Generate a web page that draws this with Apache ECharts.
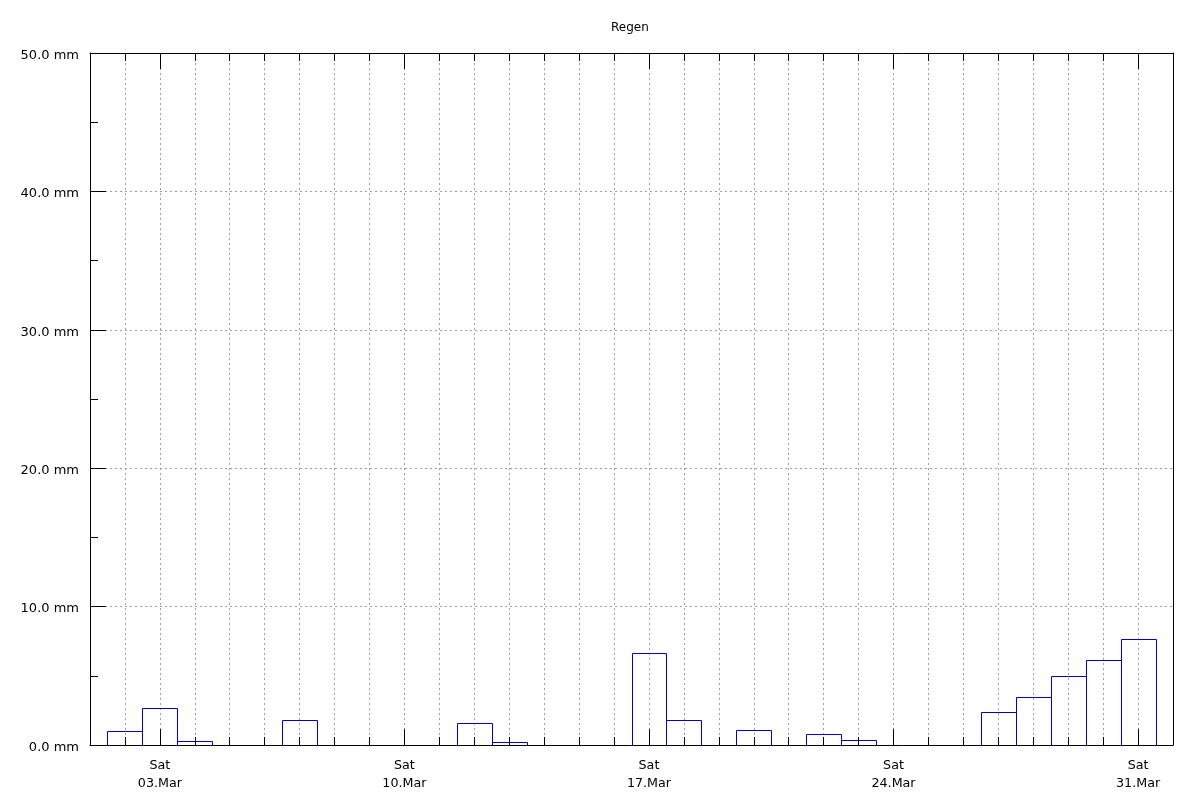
<!DOCTYPE html>
<html>
<head>
<meta charset="utf-8">
<script src="https://cdn.jsdelivr.net/npm/echarts@6/dist/echarts.min.js"></script>
<style>
html,body{margin:0;padding:0;background:#fff;}
#chart{width:1200px;height:800px;}
</style>
</head>
<body>
<div id="chart"></div>
<script>
// Day of March (bar centred on that day's midnight) and rainfall in mm
const days = [2, 3, 4, 7, 12, 13, 17, 18, 20, 22, 23, 27, 28, 29, 30, 31];
const rain = [1.0, 2.65, 0.27, 1.8, 1.57, 0.2, 6.63, 1.78, 1.07, 0.77, 0.34, 2.37, 3.45, 4.97, 6.12, 7.64];

// Saturday tick positions and labels
const satDays = [3, 10, 17, 24, 31];
const satWeekday = ['Sat', 'Sat', 'Sat', 'Sat', 'Sat'];
const satDates = ['03.Mar', '10.Mar', '17.Mar', '24.Mar', '31.Mar'];

const title = 'Regen';
const yUnit = 'mm';
const xMin = 1, xMax = 32;  // 1 Mar 00:00 .. 1 Apr 00:00
const yMin = 0, yMax = 50, yStep = 10;

const FONT = 'DejaVu Sans';
const BLUE = '#0000c8';
const GRIDC = '#a0a0a0';

const gridBox = {left: 90, right: 27, top: 53, bottom: 55};

const chart = echarts.init(document.getElementById('chart'), null, {renderer: 'canvas'});

const dotted = {color: GRIDC, width: 1, type: [2, 3]};
const blackLine = {show: true, lineStyle: {color: '#000', width: 1}};

const option = {
  animation: false,
  backgroundColor: '#fff',
  title: {
    text: title,
    left: 606, top: 17,
    textStyle: {fontFamily: FONT, fontSize: 12, fontWeight: 'normal', color: '#000'}
  },
  grid: [
    Object.assign({show: false}, gridBox),
    Object.assign({show: false}, gridBox)
  ],
  xAxis: [
    { // daily minor ticks + dotted grid, bottom
      gridIndex: 0, type: 'value', position: 'bottom', min: xMin, max: xMax, interval: 1,
      axisLine: blackLine,
      axisTick: {show: true, inside: true, length: 8, lineStyle: {color: '#000', width: 1}},
      axisLabel: {show: false},
      splitLine: {show: true, lineStyle: dotted}
    },
    { // daily minor ticks, top
      gridIndex: 0, type: 'value', position: 'top', min: xMin, max: xMax, interval: 1,
      axisLine: blackLine,
      axisTick: {show: true, inside: true, length: 8, lineStyle: {color: '#000', width: 1}},
      axisLabel: {show: false},
      splitLine: {show: false}
    },
    { // Saturday major ticks + labels, bottom
      gridIndex: 1, type: 'value', position: 'bottom', min: xMin, max: xMax,
      axisLine: {show: false},
      axisTick: {show: true, inside: true, length: 16, customValues: satDays, lineStyle: {color: '#000', width: 1}},
      axisLabel: {
        show: true, customValues: satDays, margin: 11,
        fontFamily: FONT, fontSize: 12.7, color: '#000', lineHeight: 18.5,
        formatter: function (v) {
          const i = satDays.indexOf(Math.round(v));
          return i < 0 ? '' : satWeekday[i] + '\n' + satDates[i];
        }
      },
      splitLine: {show: false}
    },
    { // Saturday major ticks, top
      gridIndex: 1, type: 'value', position: 'top', min: xMin, max: xMax,
      axisLine: {show: false},
      axisTick: {show: true, inside: true, length: 16, customValues: satDays, lineStyle: {color: '#000', width: 1}},
      axisLabel: {show: false},
      splitLine: {show: false}
    }
  ],
  yAxis: [
    {
      gridIndex: 0, type: 'value', position: 'left', min: yMin, max: yMax, interval: yStep,
      axisLine: blackLine,
      axisTick: {show: true, inside: true, length: 16, lineStyle: {color: '#000', width: 1}},
      minorTick: {show: true, splitNumber: 2, length: 8, lineStyle: {color: '#000', width: 1}},
      axisLabel: {
        show: true, margin: 11, fontFamily: FONT, fontSize: 13, color: '#000',
        verticalAlign: 'top', lineHeight: 13, padding: [-4, 0, 0, 0],
        formatter: function (v) { return v.toFixed(1) + ' ' + yUnit; }
      },
      splitLine: {show: true, lineStyle: dotted}
    },
    { // right border only
      gridIndex: 1, type: 'value', position: 'right', min: yMin, max: yMax,
      axisLine: blackLine,
      axisTick: {show: false},
      axisLabel: {show: false},
      splitLine: {show: false}
    }
  ],
  series: [
    {
      type: 'custom',
      xAxisIndex: 0, yAxisIndex: 0,
      data: days.map(function (d, i) { return [d, rain[i]]; }),
      z: 5,
      renderItem: function (params, api) {
        const d = api.value(0), v = api.value(1);
        const p1 = api.coord([d - 0.5, v]);
        const p2 = api.coord([d + 0.5, 0]);
        const x1 = Math.round(p1[0]) + 0.5, x2 = Math.round(p2[0]) + 0.5;
        const y1 = Math.round(p1[1]) + 0.5, y2 = Math.round(p2[1]) + 0.5;
        return {
          type: 'polyline',
          shape: {points: [[x1, y2], [x1, y1], [x2, y1], [x2, y2]]},
          style: {stroke: BLUE, lineWidth: 1, fill: null}
        };
      }
    }
  ]
};

chart.setOption(option);
</script>
</body>
</html>
